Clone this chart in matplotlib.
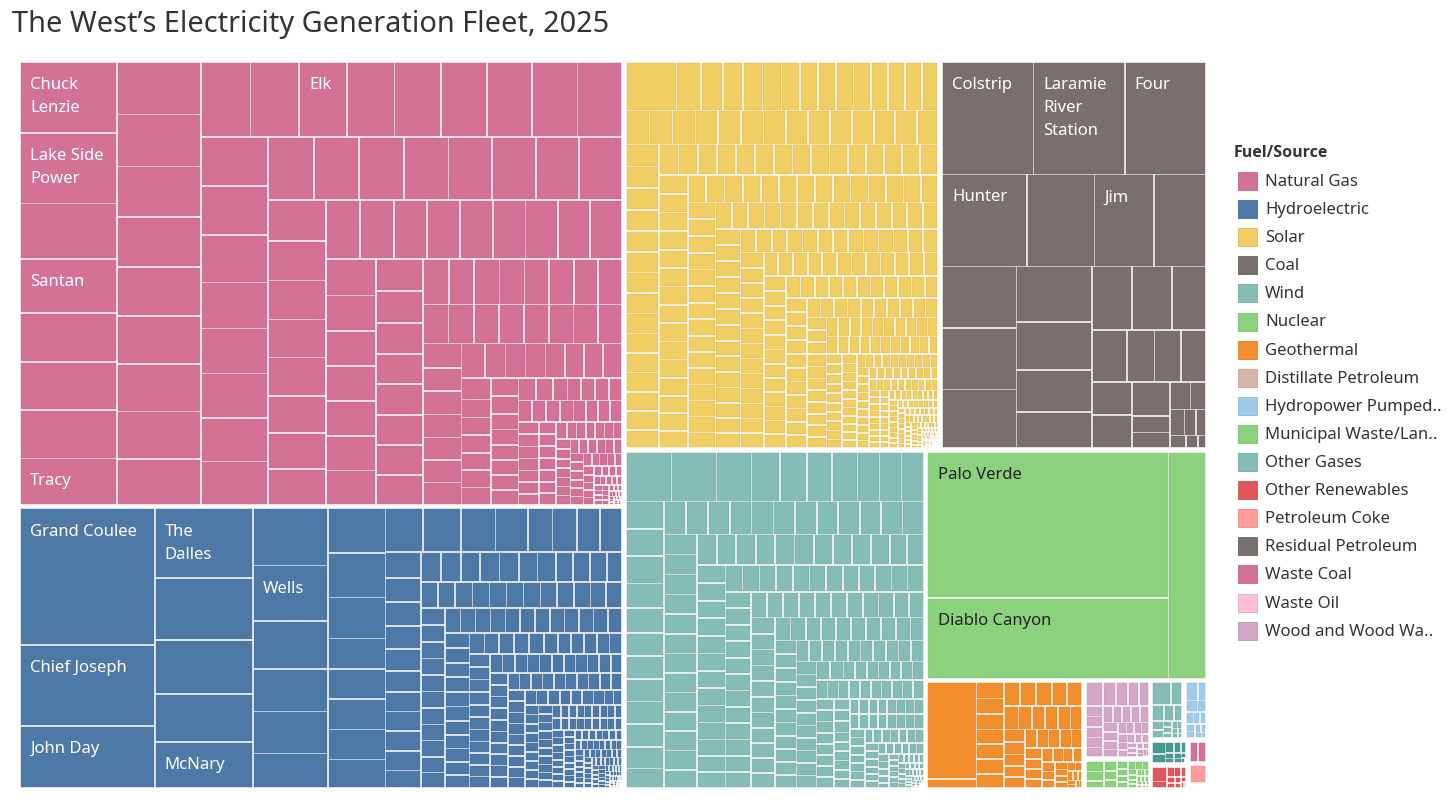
import matplotlib
matplotlib.use("Agg")
import matplotlib.pyplot as plt
from matplotlib.patches import Rectangle
import matplotlib.colors as mcolors

plt.rcParams['font.family'] = ['Noto Sans', 'DejaVu Sans']

# annual generation per plant (GWh), estimated from tile areas, largest first
natural_gas = [
    6700, 6700, 5300, 5100, 4660, 4560, 4560, 4370,
    4300, 4250, 4150, 4050, 4000, 3950, 3900, 3850, 3750,
    3600, 3550, 3500, 3450, 3400, 3350, 3300, 3300, 3250,
    3200, 3200, 3100, 3000, 2950, 2900, 2850, 2800,
    2800, 2800, 2750, 2750, 2700, 2700, 2650, 2650,
    2300, 2250, 2200, 2150, 2150, 2100, 2050, 2000,
    1950, 1950, 1920, 1900, 1900, 1880, 1870, 1860, 1850,
    1750, 1720, 1700, 1700, 1680, 1670, 1650,
    1460, 1440, 1420, 1400, 1390, 1380, 1370, 1360,
    1140, 1120, 1110, 1100, 1090, 1080, 1070, 1060,
    980, 970, 960, 950, 950, 940, 930, 920, 910,
    880, 870, 860, 850, 840, 830, 790,
    680, 670, 660, 650, 640, 640, 630, 620,
    520, 510, 505, 500, 495, 490, 485, 480,
    420, 415, 410, 400, 395, 390, 385, 380,
    310, 305, 300, 300, 295, 290, 290, 285, 280,
    260, 255, 250, 250, 245, 245, 240, 235, 235, 230,
    210, 205, 200, 200, 195, 195, 190, 190, 185,
    160, 155, 155, 150, 150, 145, 145, 140,
    135, 132, 130, 130, 128, 126, 125, 124, 122, 120, 118,
    115, 112, 110, 108, 106, 104, 102, 100, 98, 96,
    90, 86, 82, 78, 75, 72, 70, 66, 63, 60, 57, 54, 51, 48, 45, 42, 40, 38, 36, 34,
    32, 30, 28, 26, 24, 22, 20, 19, 18, 16, 15, 14, 12, 11, 10, 9, 8, 7, 6, 5, 4, 3,
]
hydroelectric = [
    18000, 10700, 8200,
    6700, 5950, 5150, 4650, 4400,
    4200, 4100, 3550, 3100, 3100, 2550,
    2500, 2500, 2300, 1700, 1700, 1700, 1680, 1600,
    1600, 1600, 1450, 1380, 1030, 1030, 970, 900,
    940, 830, 830, 790, 760, 720, 680, 680, 680, 680, 540,
    600, 600, 580, 570, 570, 570, 540, 500, 500, 500,
    450, 450, 445, 445, 440, 440, 440, 435, 435, 430, 430,
    410, 410, 405, 405, 400, 400, 400, 395, 395, 390, 390,
    375, 375, 372, 370, 370, 368, 366, 365, 364, 362, 360,
    355, 352, 350, 350, 348, 346, 345, 344, 342, 340,
    315, 312, 310, 310, 308, 306, 305, 304, 302, 300,
    265, 264, 262, 260, 260, 258, 256, 255, 254, 252, 250,
    240, 238, 236, 234, 232, 230, 228, 226, 224, 222, 220, 218, 216, 214, 212, 210, 208, 206, 204, 202,
    200, 199, 198, 197, 196, 196, 195, 195, 194, 194,
    195, 194, 192, 190, 190, 188, 186, 185, 184, 182, 181, 180,
    178, 176, 175, 174, 172, 170, 168, 166, 165, 164,
    130, 129, 128, 127, 126, 125, 125, 124, 123, 122, 121, 120, 120,
    118, 116, 115, 114, 112, 110, 108, 106, 105, 104,
    100, 99, 98, 97, 96, 95, 94, 93, 92, 91, 90, 89, 88, 87,
    85, 84, 83, 82, 81, 80, 79, 78, 77, 76, 75,
    74, 73, 72, 71, 70, 70, 69, 68, 67, 66, 65, 65, 64, 63, 62,
    60, 59, 58, 57, 56, 55, 54, 53, 52, 51, 50,
    49, 48, 47, 46, 45, 45, 44, 43, 42, 41, 40, 40, 39, 38, 37, 36,
    35, 35, 34, 34, 33, 33, 32, 32, 31, 31, 30, 30,
    29, 28, 27, 26, 25, 24, 23, 22, 21, 20, 19, 18, 17, 16, 15, 15, 14, 14, 13, 13,
    12, 12, 11, 11, 10, 10, 9, 9, 8, 8, 7, 7, 6, 6, 5, 5, 4, 4, 3, 3,
]
solar = [
    2400, 1150, 1060, 950, 920, 900, 880, 860, 850, 840, 830, 820, 800, 790,
    780, 780, 770, 770, 760, 760, 750, 750, 740, 740, 730, 730, 720, 720,
    710, 700, 700, 690, 680, 670, 660, 660, 650, 640, 630, 620, 620, 610, 600,
    590, 590, 580, 580, 570, 570, 560, 560, 560, 550, 550, 550, 540, 540,
    538, 536, 534, 532, 530, 528, 526, 524, 522, 520, 518, 516, 514, 512,
    500, 498, 496, 494, 492, 490, 488, 486, 484, 482, 480, 478, 476, 474, 472,
    465, 462, 460, 458, 456, 454, 452, 450, 448, 446, 444, 442, 440, 438, 436,
    430, 428, 426, 424, 422, 420, 418, 416, 414, 412, 410, 408, 406, 404,
    402, 400, 398, 396, 394, 392, 390, 388, 386, 384, 382, 380, 378, 376,
    370, 368, 366, 364, 362, 360, 358, 356, 354, 352, 350, 348, 346, 344, 342,
    340, 338, 336, 334, 332, 330, 328, 326, 324, 322, 320, 318, 316, 314,
    350, 349, 348, 347, 346, 345, 344, 343, 342, 341, 340, 339, 338, 337,
    336, 335, 334, 333, 332, 331,
    312, 310, 308, 306, 304, 302, 300, 298, 296, 294, 292, 290, 288, 286,
    284, 282, 280, 278, 276, 274, 272, 270, 268, 266, 264, 262, 260, 258,
    255, 252, 250, 248, 246, 244, 242, 240, 238, 236, 234, 232, 230, 228, 226,
    224, 222, 220, 218, 216, 214, 212, 210, 208, 206, 204, 202, 200, 198,
    190, 186, 182, 178, 174, 170, 167, 164, 161, 158, 155, 152, 150, 148, 146, 144,
    142, 140, 138, 136, 134, 132, 130, 128, 126, 124, 122, 120, 118, 116, 114, 112,
    110, 109, 108, 107, 106, 105, 104, 103, 102, 101, 100, 99, 98, 97, 96, 95,
    94, 93, 92, 91, 90, 89, 88, 87, 86, 85, 84, 83, 82, 81, 80,
    79, 78, 77, 76, 75, 74, 73, 72, 71, 70, 69, 68, 67, 66, 65, 64,
    63, 62, 61, 60, 59, 58, 57, 56, 55, 54, 53, 52, 51, 50, 49,
    48, 48, 47, 47, 46, 46, 45, 45, 44, 44, 43, 43, 42, 42, 41, 41, 40, 40, 39, 39,
    38, 38, 37, 37, 36, 36, 35, 35, 34, 34, 33, 33, 32, 32, 31, 31, 30, 30, 29, 29,
    28, 28, 27, 27, 26, 26, 25, 25, 24, 24,
    23, 23, 22, 22, 21, 21, 20, 20, 19, 19, 18, 18, 17, 17, 16, 16, 15, 15, 14, 14,
    13, 13, 12, 12, 11, 11, 10, 10, 10, 10, 9, 9, 9, 9, 8, 8, 8, 8, 7, 7,
    7, 7, 6, 6, 6, 6, 5, 5, 5, 5, 4, 4, 4, 4, 3, 3, 3, 3, 2, 2,
]
coal = [
    10100, 10100, 9000, 7700, 6100, 5400, 4700, 4500, 4500, 4300, 4100, 3600,
    3100, 2700, 2500, 2500, 2100, 1800, 1400, 1350, 1300, 1300, 1300, 1270,
    600, 580, 560, 420, 380, 300, 250, 200, 150, 100,
]
wind = [
    2200, 2200, 1700, 1380, 1330, 1220, 1220, 1070, 1070, 1020,
    1080, 1000, 1000, 920, 920, 840, 840, 840, 840, 840, 800, 700,
    720, 715, 710, 705, 700, 700, 695, 695, 690, 690, 685, 680,
    660, 655, 650, 648, 645, 642, 640, 638, 635, 632, 630, 625,
    600, 595, 590, 588, 585, 582, 580, 578, 575, 572, 570,
    510, 505, 500, 498, 495, 492, 490, 488, 485, 482, 480, 475,
    455, 452, 450, 447, 445, 442, 440, 437, 435, 432, 430,
    425, 424, 423, 422, 421, 420, 419, 418, 417, 416, 415, 414,
    413, 412, 411, 410, 409, 408, 407, 406, 405, 404, 403, 402,
    385, 382, 380, 377, 375, 372, 370, 367, 365, 362, 360, 357,
    350, 348, 346, 344, 342, 340, 338, 336, 334, 332, 330,
    292, 290, 288, 286, 284, 282, 280, 278, 276, 274, 272, 270,
    268, 267, 266, 265, 264, 263, 262, 261, 260, 259, 258,
    255, 254, 253, 252, 251, 250, 249, 248, 247, 246, 245,
    215, 213, 211, 209, 207, 205, 203, 201, 199, 197,
    195, 193, 191, 189, 187, 185, 183, 181, 179, 177,
    200, 198, 196, 194, 192, 190, 188, 186,
    150, 149, 148, 147, 146, 145, 144, 143, 142, 141, 140, 139, 138,
    137, 136, 135, 134, 133, 132, 131, 130, 129, 128, 127, 126,
    122, 121, 120, 119, 118, 117, 116, 115, 114, 113, 112, 111, 110, 109,
    95, 93, 91, 89, 87, 85, 83, 81, 80, 79, 78, 77, 76,
    55, 54, 53, 52, 51, 50, 49,
    48, 46, 44, 42, 40, 38, 36, 34, 32, 30, 29, 28, 27, 26, 25, 24, 23, 22, 21, 20,
    19, 18, 17, 16, 15, 14, 13, 12, 11, 10, 9, 8, 7, 6, 5, 5, 4, 4, 3, 3,
]
nuclear = [34800, 19200, 8400]
geothermal = [
    4800, 460, 450, 440, 430, 420, 420, 410, 400, 390, 380, 380, 370, 360, 350,
    330, 310, 310, 300, 280, 270, 270, 250, 240, 230, 220, 220, 220, 210, 200,
    190, 180, 170, 160, 160, 150, 140, 130, 120, 110, 100, 95, 90, 80, 75, 70, 60,
    55, 50, 40, 35, 30, 25, 20,
]
wood = [
    420, 330, 290, 280, 240, 200, 195, 190, 185, 180, 170, 165, 160, 160, 155, 150,
    140, 130, 120, 110, 100, 95, 90, 85, 80, 75, 70, 65, 60, 55, 50, 45, 40, 35, 30,
    25, 20, 15, 10,
]
municipal_waste = [
    220, 200, 150, 150, 140, 120, 100, 90, 80, 75, 70, 65, 60, 55, 50, 45, 40, 35,
    30, 28, 26, 24, 22, 20, 18, 16, 14, 12, 10,
]
other_gases = [480, 300, 210, 200, 150, 110, 100, 60, 55, 50, 45, 40, 35, 30, 25, 20]
pumped_storage = [260, 180, 160, 120, 110, 100, 90, 80, 70, 60, 50, 40, 30]
other = [200, 150, 120, 100, 80, 60, 50, 50, 40, 30, 20, 10]
other_renewables = [260, 120, 100, 80, 70, 60, 50, 50, 40, 30, 25, 15]
waste_coal = [230, 220]
petroleum_coke = [400]
distillate = [30, 20, 15, 10]
waste_oil = [20]
residual = [10]

plants = {
    "Natural Gas": natural_gas,
    "Hydroelectric": hydroelectric,
    "Solar": solar,
    "Coal": coal,
    "Wind": wind,
    "Nuclear": nuclear,
    "Geothermal": geothermal,
    "Distillate Petroleum": distillate,
    "Hydropower Pumped Storage": pumped_storage,
    "Municipal Waste/Landfill Gas": municipal_waste,
    "Other Gases": other_gases,
    "Other Renewables": other_renewables,
    "Petroleum Coke": petroleum_coke,
    "Residual Petroleum": residual,
    "Waste Coal": waste_coal,
    "Waste Oil": waste_oil,
    "Wood and Wood Waste": wood,
    "Other": other,
}

colors = {
    "Natural Gas": "#D37295",
    "Hydroelectric": "#4E79A7",
    "Solar": "#F1CE63",
    "Coal": "#79706E",
    "Wind": "#86BCB6",
    "Nuclear": "#8CD17D",
    "Geothermal": "#F28E2B",
    "Distillate Petroleum": "#D7B5A6",
    "Hydropower Pumped Storage": "#A0CBE8",
    "Municipal Waste/Landfill Gas": "#8CD17D",
    "Other Gases": "#86BCB6",
    "Other Renewables": "#E15759",
    "Petroleum Coke": "#FF9D9A",
    "Residual Petroleum": "#79706E",
    "Waste Coal": "#D37295",
    "Waste Oil": "#FABFD2",
    "Wood and Wood Waste": "#D4A6C8",
    "Other": "#499894",
}

# plant names shown inside tiles (index into each fuel's list)
names = {
    "Natural Gas": {0: "Chuck\nLenzie", 1: "Lake Side\nPower", 3: "Santan", 7: "Tracy", 19: "Elk"},
    "Hydroelectric": {0: "Grand Coulee", 1: "Chief Joseph", 2: "John Day", 3: "The\nDalles",
                      7: "McNary", 9: "Wells"},
    "Coal": {0: "Colstrip", 1: "Laramie\nRiver\nStation", 2: "Four", 3: "Hunter", 5: "Jim"},
    "Nuclear": {0: "Palo Verde", 1: "Diablo Canyon"},
}
dark_text = {"Nuclear"}

legend_fuels = ["Natural Gas", "Hydroelectric", "Solar", "Coal", "Wind", "Nuclear", "Geothermal",
                "Distillate Petroleum", "Hydropower Pumped Storage", "Municipal Waste/Landfill Gas",
                "Other Gases", "Other Renewables", "Petroleum Coke", "Residual Petroleum",
                "Waste Coal", "Waste Oil", "Wood and Wood Waste"]
legend_text = ["Natural Gas", "Hydroelectric", "Solar", "Coal", "Wind", "Nuclear", "Geothermal",
               "Distillate Petroleum", "Hydropower Pumped..", "Municipal Waste/Lan..",
               "Other Gases", "Other Renewables", "Petroleum Coke", "Residual Petroleum",
               "Waste Coal", "Waste Oil", "Wood and Wood Wa.."]

PHI = (1 + 5 ** 0.5) / 2


def squarify(values, x0, y0, x1, y1):
    # squarified treemap, golden-ratio variant (same as d3 / Tableau style)
    rects = []
    n = len(values)
    remaining = float(sum(values))
    i0 = i1 = 0
    while i0 < n:
        dx, dy = x1 - x0, y1 - y0
        s = values[i1]
        i1 += 1
        vmin = vmax = s
        alpha = max(dy / dx, dx / dy) / (remaining * PHI)
        beta = s * s * alpha
        best = max(vmax / beta, beta / vmin)
        while i1 < n:
            v = values[i1]
            s2 = s + v
            beta = s2 * s2 * alpha
            r = max(max(vmax, v) / beta, beta / min(vmin, v))
            if r > best:
                break
            s = s2
            vmin, vmax = min(vmin, v), max(vmax, v)
            best = r
            i1 += 1
        row = values[i0:i1]
        if dx < dy:
            h = dy * s / remaining if i1 < n else dy
            xx = x0
            for v in row:
                w = dx * v / s
                rects.append((xx, y0, w, h))
                xx += w
            y0 += h
        else:
            w = dx * s / remaining if i1 < n else dx
            yy = y0
            for v in row:
                hh = dy * v / s
                rects.append((x0, yy, w, hh))
                yy += hh
            x0 += w
        remaining -= s
        i0 = i1
    return rects


def darker(c, f=0.9):
    r, g, b = mcolors.to_rgb(c)
    return (r * f, g * f, b * f)


fig = plt.figure(figsize=(14.56, 8.0), dpi=100)
ax = fig.add_axes([0, 0, 1, 1])
ax.set_xlim(0, 1456)
ax.set_ylim(800, 0)
ax.axis('off')

fuels = sorted(plants, key=lambda f: -sum(plants[f]))
totals = [sum(plants[f]) for f in fuels]
blocks = squarify(totals, 18, 60, 1208, 790)

pad = 0.85
for fuel, (bx, by, bw, bh) in zip(fuels, blocks):
    vals = plants[fuel]
    order = sorted(range(len(vals)), key=lambda i: -vals[i])
    sub = squarify([vals[i] for i in order], bx + 2, by + 2, bx + bw - 2, by + bh - 2)
    col = colors[fuel]
    edge = darker(col)
    for idx, (x, y, w, h) in zip(order, sub):
        if w > 2 * pad and h > 2 * pad:
            ax.add_patch(Rectangle((x + pad, y + pad), w - 2 * pad, h - 2 * pad, facecolor=col,
                                   edgecolor=edge, lw=0.3))
        label = names.get(fuel, {}).get(idx)
        if label:
            ax.text(x + 10, y + 15, label, fontsize=12, va='top', ha='left',
                    color='#222222' if fuel in dark_text else 'white', linespacing=1.6)

ax.text(12, 32, "The West\u2019s Electricity Generation Fleet, 2025", fontsize=20.8,
        color='#333333', va='baseline', ha='left')

ax.text(1234, 153, "Fuel/Source", fontsize=11.5, fontweight='bold', color='#333333',
        va='center', ha='left', family=['Open Sans', 'DejaVu Sans'])
for k, (fuel, txt) in enumerate(zip(legend_fuels, legend_text)):
    yc = 181 + k * 28.1
    ax.add_patch(Rectangle((1238, yc - 9), 19, 18, facecolor=colors[fuel],
                           edgecolor=darker(colors[fuel]), lw=0.6))
    ax.text(1265, yc + 1, txt, fontsize=12, color='#333333', va='center', ha='left')

fig.savefig("out.png", dpi=100, facecolor='white')
